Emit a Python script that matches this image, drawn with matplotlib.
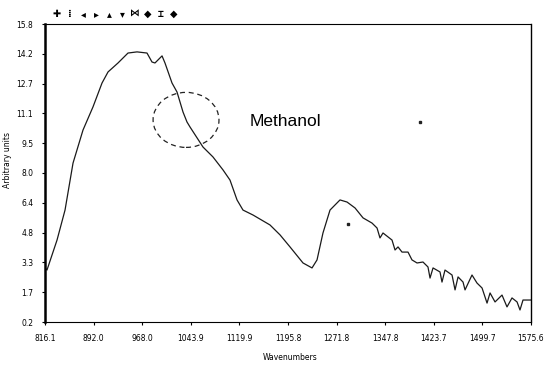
#!/usr/bin/env python3
"""Methanol IR spectrum, arbitrary units vs wavenumbers."""

import matplotlib

matplotlib.use("Agg")
import matplotlib.pyplot as plt
from matplotlib.patches import Ellipse

# spectrum
wavenumber = [
    816.1, 819.2, 834.9, 847.4, 859.9, 875.5, 891.1, 905.2, 914.6, 930.2,
    945.8, 959.9, 975.5, 983.3, 988.0, 999.0, 1003.6, 1014.6, 1022.4, 1031.8,
    1038.0, 1042.7, 1063.0, 1078.6, 1094.3, 1105.2, 1116.2, 1125.5, 1141.2, 1167.7,
    1183.4, 1199.0, 1219.3, 1233.4, 1241.2, 1250.5, 1261.5, 1277.1, 1288.1, 1300.6,
    1313.1, 1327.1, 1335.0, 1339.6, 1344.3, 1358.4, 1363.1, 1367.8, 1374.0, 1383.4,
    1389.6, 1397.5, 1406.8, 1414.6, 1417.8, 1422.5, 1433.4, 1436.5, 1441.2, 1452.2,
    1456.9, 1461.6, 1469.4, 1472.5, 1483.4, 1491.2, 1499.1, 1506.9, 1511.6, 1519.4,
    1530.3, 1538.1, 1545.9, 1553.8, 1558.4, 1563.1, 1575.6,
]
intensity = [
    3.03, 2.92, 4.49, 6.06, 8.52, 10.25, 11.46, 12.71, 13.29, 13.76,
    14.28, 14.34, 14.28, 13.81, 13.76, 14.13, 13.76, 12.71, 12.24, 11.19,
    10.67, 10.41, 9.36, 8.84, 8.16, 7.63, 6.59, 6.06, 5.80, 5.28,
    4.76, 4.13, 3.29, 3.03, 3.45, 4.86, 6.06, 6.59, 6.48, 6.17,
    5.65, 5.38, 5.12, 4.60, 4.86, 4.49, 3.97, 4.13, 3.86, 3.86,
    3.45, 3.29, 3.34, 3.08, 2.50, 3.03, 2.82, 2.29, 2.92, 2.66,
    1.88, 2.56, 2.29, 1.88, 2.66, 2.24, 1.98, 1.19, 1.72, 1.25,
    1.61, 0.99, 1.46, 1.25, 0.83, 1.35, 1.35,
]

# stray specks in the scan
speck_x = [1288.9, 1401.4]
speck_y = [5.33, 10.67]

x_ticks = [816.1, 892.0, 968.0, 1043.9, 1119.9, 1195.8, 1271.8, 1347.8, 1423.7, 1499.7, 1575.6]
x_ticklabels = ["816.1", "892.0", "968.0", "1043.9", "1119.9", "1195.8",
                "1271.8", "1347.8", "1423.7", "1499.7", "1575.6"]
y_ticks = [0.2, 1.76, 3.32, 4.88, 6.44, 8.0, 9.56, 11.12, 12.68, 14.24, 15.8]
y_ticklabels = ["0.2", "1.7", "3.3", "4.8", "6.4", "8.0", "9.5", "11.1", "12.7", "14.2", "15.8"]

toolbar = ["✚", "⁞", "◂", "▸", "▴", "▾", "⋈", "◆", "⌶", "◆"]

fig = plt.figure(figsize=(5.46, 3.69), dpi=100)
ax = fig.add_axes([45 / 546, 47 / 369, 486 / 546, 298 / 369])

ax.plot(wavenumber, intensity, color="#1a1a1a", lw=0.9)
ax.plot(speck_x, speck_y, ls="none", marker="s", ms=1.5, color="#222222")

ax.add_patch(Ellipse((1036.5, 10.78), 103, 2.88, fill=False, ls=(0, (4, 3)),
                     lw=0.9, color="#222222"))
ax.text(1136.5, 10.67, "Methanol", fontsize=12.5, family="Liberation Sans",
        va="center", ha="left")

ax.set_xlim(816.1, 1575.6)
ax.set_ylim(0.2, 15.8)
ax.set_xticks(x_ticks)
ax.set_xticklabels(x_ticklabels)
ax.set_yticks(y_ticks)
ax.set_yticklabels(y_ticklabels)
ax.tick_params(labelsize=5.5, length=2.5, width=0.8, pad=6)

ax.spines["left"].set_linewidth(1.8)
ax.spines["right"].set_linewidth(1.0)
ax.spines["top"].set_linewidth(0.8)
ax.spines["top"].set_linestyle((0, (2, 1)))
ax.spines["bottom"].set_linewidth(0.8)
ax.spines["bottom"].set_linestyle((0, (2, 1)))

fig.text(8 / 546, 1 - 160 / 369, "Arbitrary units", rotation=90, fontsize=5.5,
         ha="center", va="center")
fig.text(290 / 546, 1 - 357 / 369, "Wavenumbers", fontsize=5.5,
         ha="center", va="center")

# toolbar glyphs above the plot
for i, sym in enumerate(toolbar):
    fig.text((57 + i * 13) / 546, 1 - 14 / 369, sym, fontsize=7, ha="center",
             va="center", weight="bold",
             family=["DejaVu Sans", "DejaVu Sans Mono", "Noto Sans"])

fig.savefig("out.png", dpi=100)
plt.close(fig)
